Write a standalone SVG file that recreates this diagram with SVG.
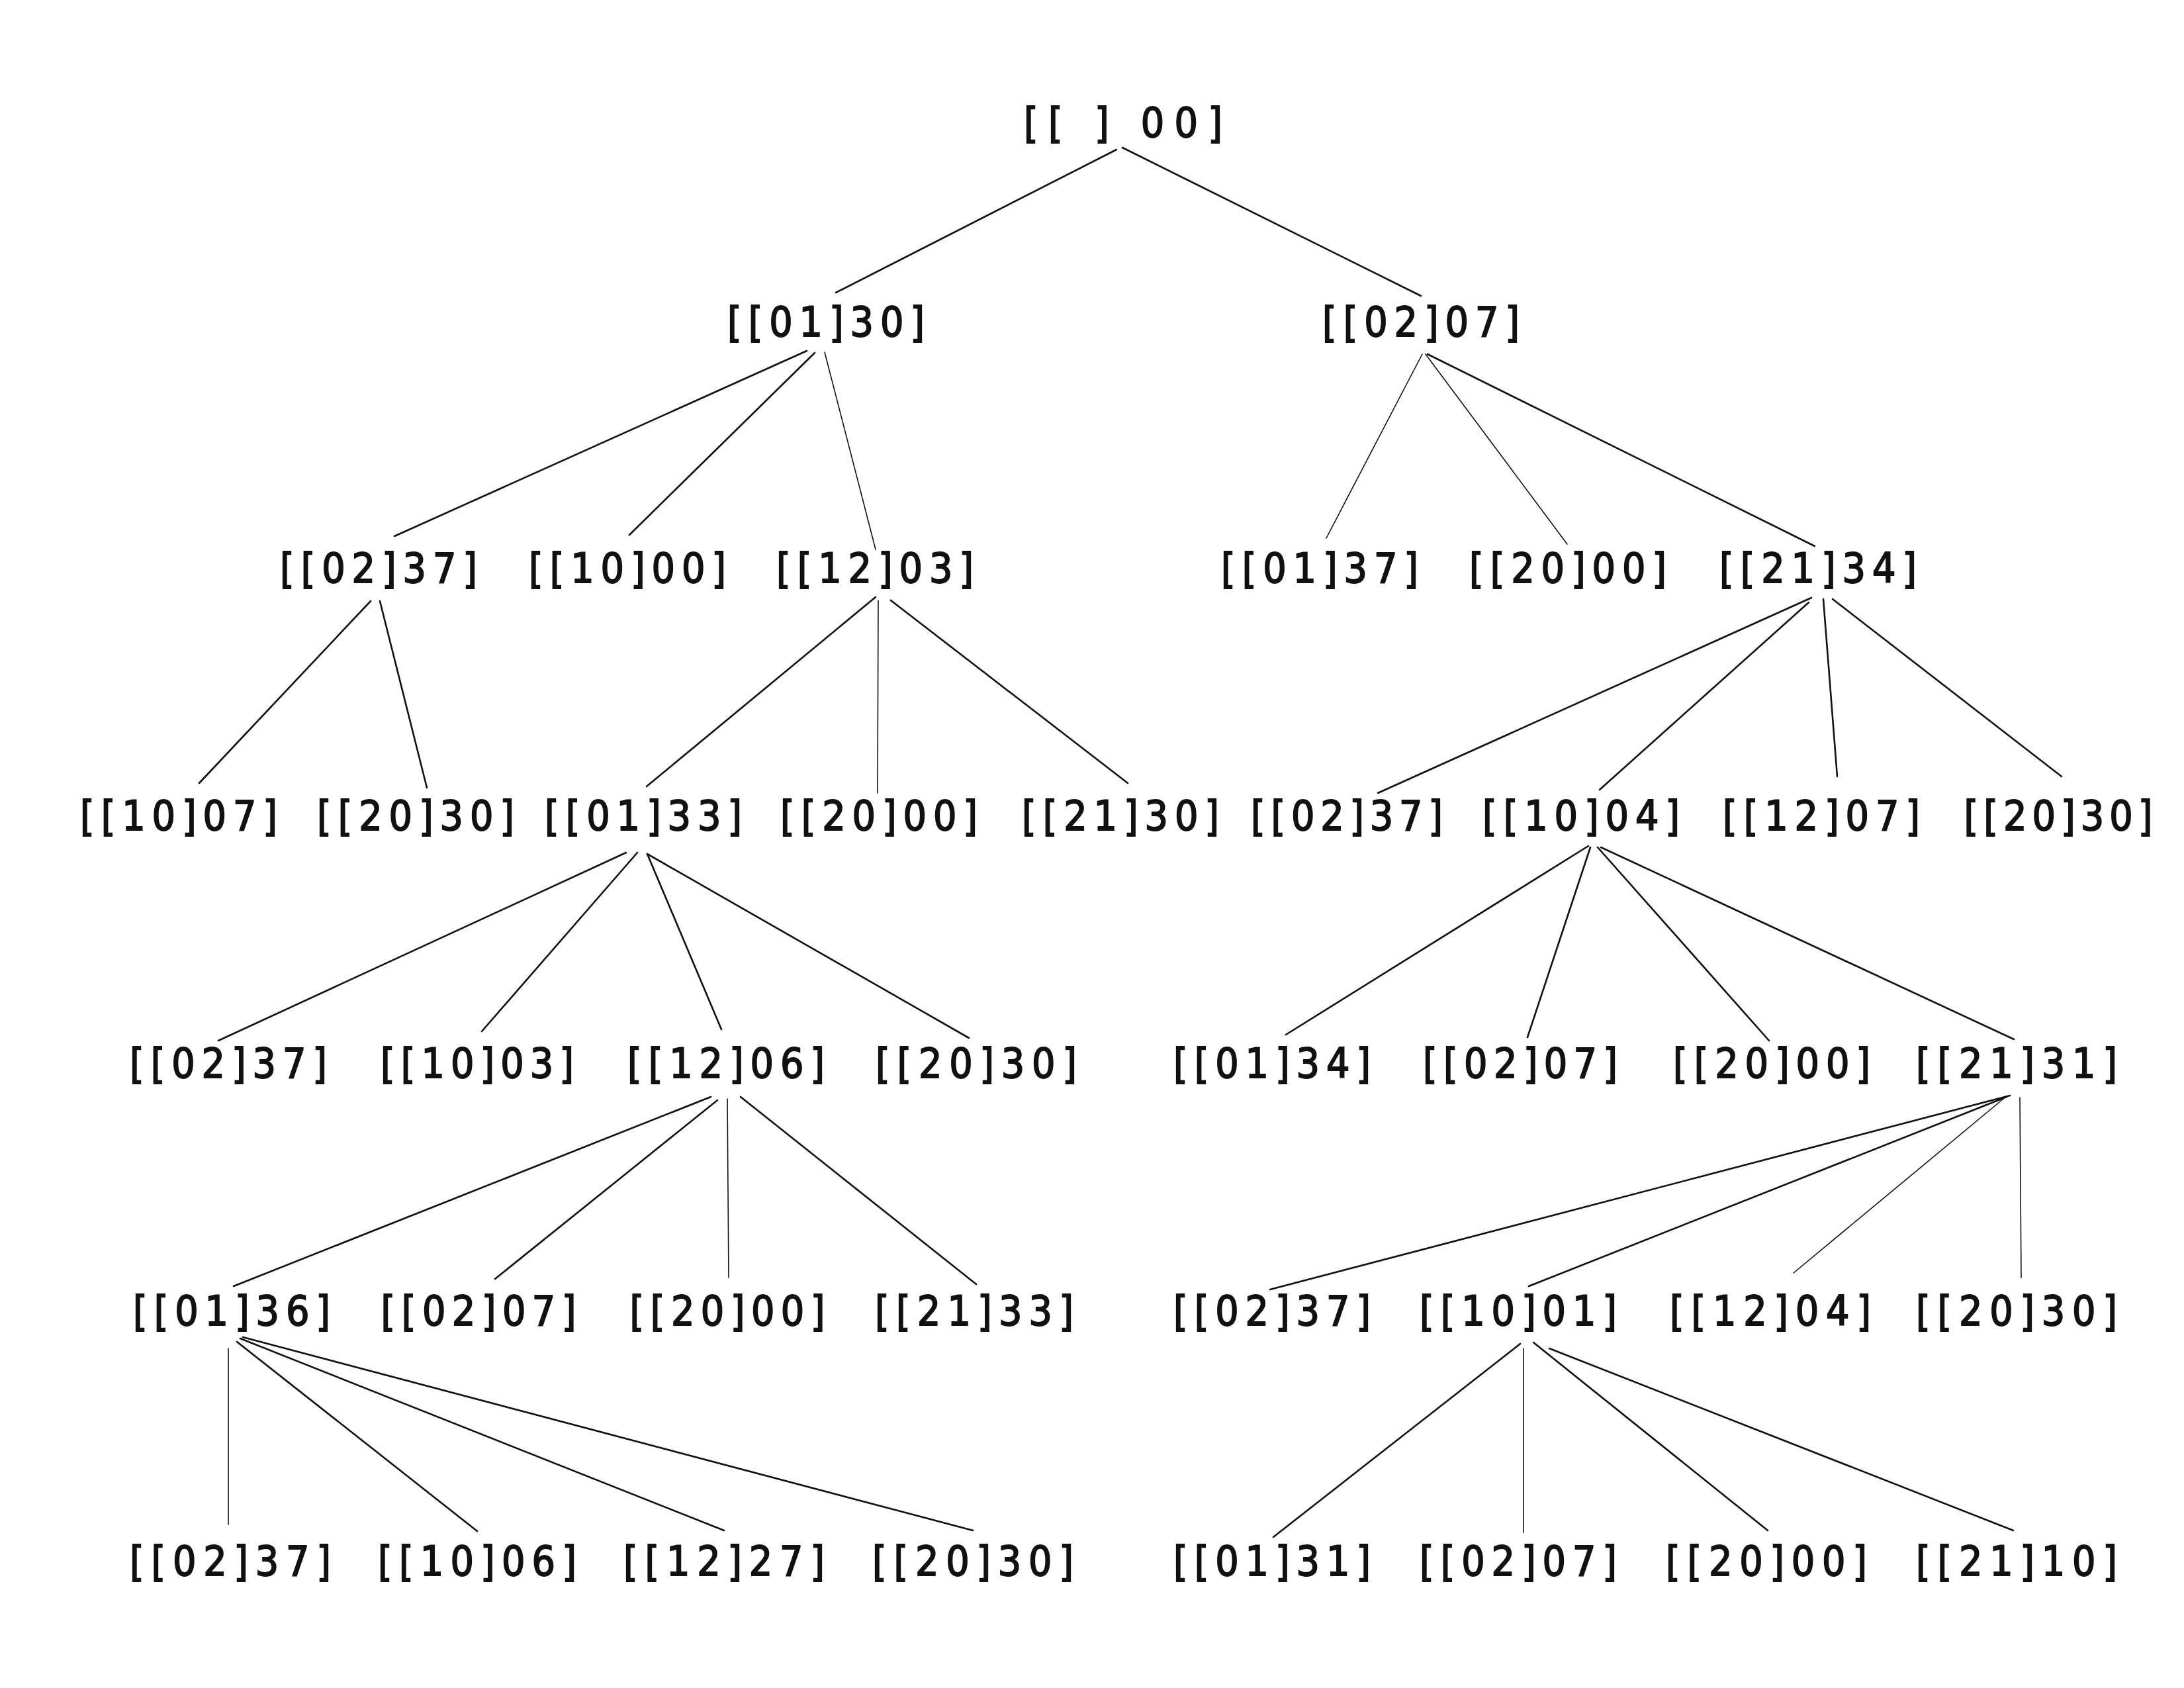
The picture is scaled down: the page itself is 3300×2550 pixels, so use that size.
<svg xmlns="http://www.w3.org/2000/svg" width="3300" height="2550" viewBox="0 0 3300 2550">
<style>
.bg{fill:#ffffff}
.n text{font-family:"DejaVu Sans Condensed","DejaVu Sans","Liberation Sans",sans-serif;font-stretch:condensed;font-size:62px;fill:#111;text-anchor:middle;stroke:#111;stroke-width:1.8}
.e line{stroke:#111;stroke-width:2.6;stroke-linecap:round}
.e line.t{stroke-width:1.6}
</style>
<rect class="bg" x="0" y="0" width="3300" height="2550"/>
<g id="connectors" class="e">
<line x1="1687" y1="226" x2="1263" y2="442"/>
<line x1="1696" y1="223" x2="2147" y2="447"/>
<line x1="1219" y1="530" x2="596" y2="810"/>
<line x1="1231" y1="533" x2="951" y2="808"/>
<line class="t" x1="1246" y1="532" x2="1323" y2="830"/>
<line class="t" x1="2149" y1="535" x2="2004" y2="813"/>
<line class="t" x1="2154" y1="535" x2="2368" y2="822"/>
<line x1="2157" y1="535" x2="2742" y2="825"/>
<line x1="560" y1="908" x2="301" y2="1183"/>
<line x1="574" y1="908" x2="645" y2="1190"/>
<line x1="1323" y1="902" x2="977" y2="1188"/>
<line class="t" x1="1327" y1="907" x2="1326" y2="1198"/>
<line x1="1346" y1="907" x2="1704" y2="1183"/>
<line x1="2737" y1="903" x2="2082" y2="1198"/>
<line x1="2733" y1="910" x2="2417" y2="1193"/>
<line x1="2755" y1="905" x2="2776" y2="1173"/>
<line x1="2769" y1="905" x2="3115" y2="1173"/>
<line x1="946" y1="1288" x2="330" y2="1572"/>
<line x1="963" y1="1288" x2="728" y2="1558"/>
<line x1="978" y1="1290" x2="1090" y2="1555"/>
<line x1="978" y1="1290" x2="1464" y2="1568"/>
<line x1="2400" y1="1278" x2="1943" y2="1563"/>
<line x1="2403" y1="1280" x2="2308" y2="1567"/>
<line x1="2414" y1="1280" x2="2673" y2="1572"/>
<line x1="2419" y1="1280" x2="3043" y2="1570"/>
<line x1="1074" y1="1657" x2="353" y2="1943"/>
<line x1="1084" y1="1662" x2="748" y2="1932"/>
<line class="t" x1="1099" y1="1660" x2="1101" y2="1930"/>
<line x1="1119" y1="1657" x2="1475" y2="1940"/>
<line x1="3037" y1="1655" x2="1919" y2="1948"/>
<line x1="3032" y1="1657" x2="2310" y2="1943"/>
<line class="t" x1="3027" y1="1660" x2="2710" y2="1923"/>
<line class="t" x1="3052" y1="1658" x2="3054" y2="1930"/>
<line class="t" x1="345" y1="2037" x2="345" y2="2303"/>
<line x1="358" y1="2027" x2="721" y2="2313"/>
<line x1="363" y1="2022" x2="1094" y2="2312"/>
<line x1="367" y1="2020" x2="1470" y2="2312"/>
<line x1="2297" y1="2030" x2="1924" y2="2322"/>
<line class="t" x1="2302" y1="2037" x2="2302" y2="2315"/>
<line x1="2317" y1="2028" x2="2671" y2="2312"/>
<line x1="2341" y1="2037" x2="3042" y2="2312"/>
</g>
<g class="n">
<g id="n0"><text x="1697" y="207" textLength="300" lengthAdjust="spacing">[[ ] 00]</text></g>
<g id="n1a"><text x="1248" y="508" textLength="298" lengthAdjust="spacing">[[01]30]</text></g>
<g id="n1b"><text x="2147" y="508" textLength="298" lengthAdjust="spacing">[[02]07]</text></g>
<g id="n2a"><text x="572" y="880" textLength="298" lengthAdjust="spacing">[[02]37]</text></g>
<g id="n2b"><text x="948" y="880" textLength="298" lengthAdjust="spacing">[[10]00]</text></g>
<g id="n2c"><text x="1322" y="880" textLength="298" lengthAdjust="spacing">[[12]03]</text></g>
<g id="n2d"><text x="1994" y="880" textLength="298" lengthAdjust="spacing">[[01]37]</text></g>
<g id="n2e"><text x="2369" y="880" textLength="298" lengthAdjust="spacing">[[20]00]</text></g>
<g id="n2f"><text x="2747" y="880" textLength="298" lengthAdjust="spacing">[[21]34]</text></g>
<g id="n3a"><text x="270" y="1254" textLength="298" lengthAdjust="spacing">[[10]07]</text></g>
<g id="n3b"><text x="628" y="1254" textLength="298" lengthAdjust="spacing">[[20]30]</text></g>
<g id="n3c"><text x="972" y="1254" textLength="298" lengthAdjust="spacing">[[01]33]</text></g>
<g id="n3d"><text x="1328" y="1254" textLength="298" lengthAdjust="spacing">[[20]00]</text></g>
<g id="n3e"><text x="1693" y="1254" textLength="298" lengthAdjust="spacing">[[21]30]</text></g>
<g id="n3f"><text x="2035" y="1254" textLength="290" lengthAdjust="spacing">[[02]37]</text></g>
<g id="n3g"><text x="2389" y="1254" textLength="298" lengthAdjust="spacing">[[10]04]</text></g>
<g id="n3h"><text x="2752" y="1254" textLength="298" lengthAdjust="spacing">[[12]07]</text></g>
<g id="n3i"><text x="3110" y="1254" textLength="285" lengthAdjust="spacing">[[20]30]</text></g>
<g id="n4a"><text x="345" y="1628" textLength="298" lengthAdjust="spacing">[[02]37]</text></g>
<g id="n4b"><text x="721" y="1628" textLength="292" lengthAdjust="spacing">[[10]03]</text></g>
<g id="n4c"><text x="1097" y="1628" textLength="298" lengthAdjust="spacing">[[12]06]</text></g>
<g id="n4d"><text x="1475" y="1628" textLength="304" lengthAdjust="spacing">[[20]30]</text></g>
<g id="n4e"><text x="1922" y="1628" textLength="298" lengthAdjust="spacing">[[01]34]</text></g>
<g id="n4f"><text x="2297" y="1628" textLength="294" lengthAdjust="spacing">[[02]07]</text></g>
<g id="n4g"><text x="2677" y="1628" textLength="298" lengthAdjust="spacing">[[20]00]</text></g>
<g id="n4h"><text x="3047" y="1628" textLength="304" lengthAdjust="spacing">[[21]31]</text></g>
<g id="n5a"><text x="350" y="2002" textLength="298" lengthAdjust="spacing">[[01]36]</text></g>
<g id="n5b"><text x="723" y="2002" textLength="295" lengthAdjust="spacing">[[02]07]</text></g>
<g id="n5c"><text x="1099" y="2002" textLength="295" lengthAdjust="spacing">[[20]00]</text></g>
<g id="n5d"><text x="1472" y="2002" textLength="300" lengthAdjust="spacing">[[21]33]</text></g>
<g id="n5e"><text x="1922" y="2002" textLength="298" lengthAdjust="spacing">[[02]37]</text></g>
<g id="n5f"><text x="2294" y="2002" textLength="298" lengthAdjust="spacing">[[10]01]</text></g>
<g id="n5g"><text x="2675" y="2002" textLength="304" lengthAdjust="spacing">[[12]04]</text></g>
<g id="n5h"><text x="3047" y="2002" textLength="304" lengthAdjust="spacing">[[20]30]</text></g>
<g id="n6a"><text x="348" y="2380" textLength="304" lengthAdjust="spacing">[[02]37]</text></g>
<g id="n6b"><text x="721" y="2380" textLength="300" lengthAdjust="spacing">[[10]06]</text></g>
<g id="n6c"><text x="1094" y="2380" textLength="304" lengthAdjust="spacing">[[12]27]</text></g>
<g id="n6d"><text x="1470" y="2380" textLength="304" lengthAdjust="spacing">[[20]30]</text></g>
<g id="n6e"><text x="1922" y="2380" textLength="298" lengthAdjust="spacing">[[01]31]</text></g>
<g id="n6f"><text x="2294" y="2380" textLength="298" lengthAdjust="spacing">[[02]07]</text></g>
<g id="n6g"><text x="2669" y="2380" textLength="304" lengthAdjust="spacing">[[20]00]</text></g>
<g id="n6h"><text x="3047" y="2380" textLength="304" lengthAdjust="spacing">[[21]10]</text></g>
</g>
</svg>
